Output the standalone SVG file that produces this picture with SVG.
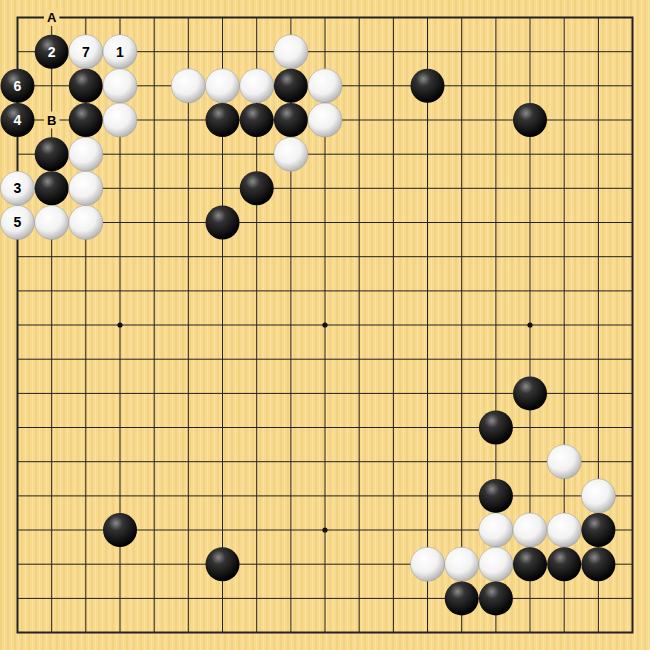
<svg xmlns="http://www.w3.org/2000/svg" xmlns:xlink="http://www.w3.org/1999/xlink" width="650" height="650" viewBox="0 0 650 650">
<defs>
<pattern id="wood" width="7" height="650" patternUnits="userSpaceOnUse">
<rect width="7" height="650" fill="#F8DA8E"/>
<rect x="0" width="2" height="650" fill="#F2CF7E" opacity="0.7"/>
<rect x="4" width="1" height="650" fill="#FBE3A2" opacity="0.8"/>
</pattern>
<radialGradient id="bg" cx="0.38" cy="0.3" r="0.7">
<stop offset="0" stop-color="#8a8a8a"/>
<stop offset="0.3" stop-color="#333"/>
<stop offset="1" stop-color="#000"/>
</radialGradient>
<radialGradient id="wg" cx="0.4" cy="0.35" r="0.72">
<stop offset="0" stop-color="#fff"/>
<stop offset="0.55" stop-color="#f2f2f2"/>
<stop offset="1" stop-color="#a8a8a8"/>
</radialGradient>
<circle id="B" r="17" fill="url(#bg)"/>
<circle id="W" r="17" fill="url(#wg)" stroke="#999" stroke-width="0.5"/>
</defs>
<style>
.g{stroke:#222;stroke-width:1;fill:none}
.e{stroke:#222;stroke-width:2;fill:none}
.nw{font-family:"Liberation Sans",Arial,sans-serif;font-weight:bold;font-size:14px;fill:#fff;text-anchor:middle}
.nb{font-family:"Liberation Sans",Arial,sans-serif;font-weight:bold;font-size:14px;fill:#000;text-anchor:middle}
.lb{font-family:"Liberation Sans",Arial,sans-serif;font-weight:bold;font-size:13px;fill:#000;text-anchor:middle}
</style>
<rect width="650" height="650" fill="url(#wood)"/>
<g id="grid">
<path class="g" d="M17.5 51.7H632.5M17.5 85.8H632.5M17.5 120H632.5M17.5 154.2H632.5M17.5 188.3H632.5M17.5 222.5H632.5M17.5 256.7H632.5M17.5 290.9H632.5M17.5 325H632.5M17.5 359.2H632.5M17.5 393.4H632.5M17.5 427.5H632.5M17.5 461.7H632.5M17.5 495.9H632.5M17.5 530H632.5M17.5 564.2H632.5M17.5 598.4H632.5"/>
<path class="g" d="M51.7 17.5V632.5M85.8 17.5V632.5M120 17.5V632.5M154.2 17.5V632.5M188.3 17.5V632.5M222.5 17.5V632.5M256.7 17.5V632.5M290.9 17.5V632.5M325 17.5V632.5M359.2 17.5V632.5M393.4 17.5V632.5M427.5 17.5V632.5M461.7 17.5V632.5M495.9 17.5V632.5M530 17.5V632.5M564.2 17.5V632.5M598.4 17.5V632.5"/>
<rect class="e" x="17.5" y="17.5" width="615" height="615"/>
<g fill="#111">
<circle cx="120" cy="325" r="2.6"/><circle cx="325" cy="325" r="2.6"/><circle cx="530" cy="325" r="2.6"/><circle cx="325" cy="530" r="2.6"/>
<circle cx="120" cy="120" r="2.6"/><circle cx="325" cy="120" r="2.6"/><circle cx="530" cy="120" r="2.6"/><circle cx="120" cy="530" r="2.6"/><circle cx="530" cy="530" r="2.6"/>
</g>
</g>
<g id="stones">
<use href="#B" x="51.7" y="51.7"/><use href="#W" x="85.8" y="51.7"/><use href="#W" x="120" y="51.7"/><use href="#W" x="290.9" y="51.7"/>
<use href="#B" x="17.5" y="85.8"/><use href="#B" x="85.8" y="85.8"/><use href="#W" x="120" y="85.8"/><use href="#W" x="188.3" y="85.8"/><use href="#W" x="222.5" y="85.8"/><use href="#W" x="256.7" y="85.8"/><use href="#B" x="290.9" y="85.8"/><use href="#W" x="325" y="85.8"/><use href="#B" x="427.5" y="85.8"/>
<use href="#B" x="17.5" y="120"/><use href="#B" x="85.8" y="120"/><use href="#W" x="120" y="120"/><use href="#B" x="222.5" y="120"/><use href="#B" x="256.7" y="120"/><use href="#B" x="290.9" y="120"/><use href="#W" x="325" y="120"/><use href="#B" x="530" y="120"/>
<use href="#B" x="51.7" y="154.2"/><use href="#W" x="85.8" y="154.2"/><use href="#W" x="290.9" y="154.2"/>
<use href="#W" x="17.5" y="188.3"/><use href="#B" x="51.7" y="188.3"/><use href="#W" x="85.8" y="188.3"/><use href="#B" x="256.7" y="188.3"/>
<use href="#W" x="17.5" y="222.5"/><use href="#W" x="51.7" y="222.5"/><use href="#W" x="85.8" y="222.5"/><use href="#B" x="222.5" y="222.5"/>
<use href="#B" x="530" y="393.4"/>
<use href="#B" x="495.9" y="427.5"/>
<use href="#W" x="564.2" y="461.7"/>
<use href="#B" x="495.9" y="495.9"/><use href="#W" x="598.4" y="495.9"/>
<use href="#B" x="120" y="530"/><use href="#W" x="495.9" y="530"/><use href="#W" x="530" y="530"/><use href="#W" x="564.2" y="530"/><use href="#B" x="598.4" y="530"/>
<use href="#B" x="222.5" y="564.2"/><use href="#W" x="427.5" y="564.2"/><use href="#W" x="461.7" y="564.2"/><use href="#W" x="495.9" y="564.2"/><use href="#B" x="530" y="564.2"/><use href="#B" x="564.2" y="564.2"/><use href="#B" x="598.4" y="564.2"/>
<use href="#B" x="461.7" y="598.4"/><use href="#B" x="495.9" y="598.4"/>
</g>
<g id="labels">
<text class="nw" x="51.7" y="56.6">2</text>
<text class="nb" x="85.8" y="56.6">7</text>
<text class="nb" x="120" y="56.6">1</text>
<text class="nw" x="17.5" y="90.7">6</text>
<text class="nw" x="17.5" y="124.9">4</text>
<text class="nb" x="17.5" y="193.2">3</text>
<text class="nb" x="17.5" y="227.4">5</text>
<rect x="44" y="9" width="15.4" height="17" fill="#F8DA8E"/>
<text class="lb" x="51.7" y="22.1">A</text>
<rect x="44" y="111.5" width="15.4" height="17" fill="#F8DA8E"/>
<text class="lb" x="51.7" y="124.6">B</text>
</g>
</svg>
